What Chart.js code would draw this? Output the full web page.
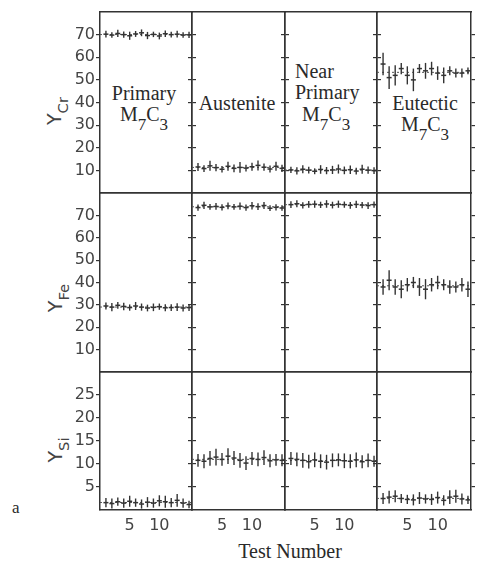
<!DOCTYPE html>
<html>
<head>
<meta charset="utf-8">
<script src="https://cdn.jsdelivr.net/npm/chart.js@4.4.1/dist/chart.umd.min.js"></script>
<style>
body { margin: 0; background: #fff; width: 479px; height: 573px; position: relative; overflow: hidden; }
canvas { position: absolute; }
.lbl { position: absolute; font-family: "Liberation Serif", serif; color: #2a2a2a; font-size: 20px; line-height: 21px; white-space: nowrap; }
.lbl sub { font-size: 85%; vertical-align: -0.5em; line-height: 0; }
.ytitle { position: absolute; font-family: "DejaVu Sans", sans-serif; color: #444; font-size: 19px; white-space: nowrap; transform: translate(-50%, -50%) rotate(-90deg); }
.ytitle sub { font-size: 78%; vertical-align: -0.45em; line-height: 0; }
</style>
</head>
<body>
<div class="ytitle" style="left:54px;top:111px">Y<sub>Cr</sub></div>
<div class="ytitle" style="left:55px;top:298px">Y<sub>Fe</sub></div>
<div class="ytitle" style="left:55px;top:450px">Y<sub>Si</sub></div>

<div class="lbl" style="left:144px;top:83px;transform:translateX(-50%);text-align:center">Primary<br>M<sub>7</sub>C<sub>3</sub></div>
<div class="lbl" style="left:237px;top:93px;transform:translateX(-50%)">Austenite</div>
<div class="lbl" style="left:295px;top:61px">Near<br>Primary</div>
<div class="lbl" style="left:302px;top:104px">M<sub>7</sub>C<sub>3</sub></div>
<div class="lbl" style="left:425px;top:93px;transform:translateX(-50%);text-align:center">Eutectic<br>M<sub>7</sub>C<sub>3</sub></div>

<div class="lbl" style="left:290px;top:541px;transform:translateX(-50%)">Test Number</div>
<div class="lbl" style="left:12px;top:497px;font-size:17px">a</div>

<script>
// test numbers along x, and the four phases (columns)
const testNumbers = [1, 2, 3, 4, 5, 6, 7, 8, 9, 10, 11, 12, 13, 14, 15];
const phases = ['Primary M7C3', 'Austenite', 'Near Primary M7C3', 'Eutectic M7C3'];

// tick labels
const crTicks = [10, 20, 30, 40, 50, 60, 70];
const feTicks = [10, 20, 30, 40, 50, 60, 70];
const siTicks = [5, 10, 15, 20, 25];
const testTicks = [5, 10];

// Y_Cr, one row per phase
const crValues = [
    [70.2, 69.8, 70.5, 70.0, 69.5, 70.3, 70.8, 69.6, 70.1, 69.4, 70.4, 70.0, 70.2, 69.8, 69.9],
    [11.5, 10.8, 12.0, 11.2, 10.5, 11.8, 10.9, 11.3, 11.0, 11.6, 12.2, 11.4, 10.6, 11.8, 10.9],
    [10.2, 9.8, 10.5, 10.1, 9.6, 10.4, 9.9, 10.2, 10.6, 10.0, 10.3, 9.7, 10.5, 10.1, 9.9],
    [57, 51, 52, 55, 52, 50, 55, 54, 55, 53, 52, 54, 53, 53, 54]
];
const crErrors = [
    [1.5, 1.2, 1.6, 1.4, 1.8, 1.3, 1.5, 1.6, 1.2, 1.5, 1.4, 1.3, 1.5, 1.2, 1.4],
    [1.8, 1.5, 2.2, 1.6, 1.4, 2.0, 1.7, 2.4, 1.5, 1.8, 2.2, 1.6, 1.5, 2.0, 1.6],
    [1.4, 1.6, 1.8, 1.5, 1.3, 1.9, 1.6, 1.8, 2.0, 1.7, 1.9, 1.5, 2.0, 1.6, 1.5],
    [5, 5, 4.5, 2.5, 4, 5, 2, 3.5, 3, 3, 3.5, 2, 2, 2, 1.5]
];

// Y_Fe
const feValues = [
    [29.5, 29.0, 29.8, 29.3, 28.8, 29.5, 29.0, 28.6, 28.9, 29.2, 28.7, 28.8, 29.0, 28.6, 28.8],
    [73.5, 74.5, 73.8, 74.0, 73.6, 74.2, 73.8, 74.1, 73.5, 74.3, 73.9, 74.4, 73.2, 73.6, 73.3],
    [74.8, 75.2, 74.5, 74.9, 75.0, 74.7, 75.1, 74.6, 75.0, 74.8, 74.5, 74.9, 74.6, 74.4, 74.8],
    [38, 41, 38, 37, 39, 40, 38, 37, 39, 40, 39, 38, 38, 39, 37]
];
const feErrors = [
    [1.6, 1.8, 1.5, 1.7, 1.4, 1.8, 1.6, 1.5, 1.7, 1.4, 1.6, 1.5, 1.7, 1.6, 1.5],
    [1.4, 1.6, 1.3, 1.5, 1.4, 1.5, 1.3, 1.6, 1.4, 1.7, 1.5, 1.6, 1.3, 1.4, 1.2],
    [1.5, 1.6, 1.4, 1.5, 1.6, 1.4, 1.7, 1.5, 1.6, 1.4, 1.5, 1.6, 1.4, 1.5, 1.4],
    [3.5, 4.5, 3.5, 4, 3, 2.5, 4, 4.5, 3, 3, 2.5, 3, 2.5, 3, 3.5]
];

// Y_Si
const siValues = [
    [1.6, 1.4, 1.8, 1.5, 1.9, 1.6, 1.3, 1.7, 1.5, 2.0, 1.8, 1.6, 2.1, 1.5, 1.2],
    [10.8, 10.6, 11.2, 11.5, 11.0, 11.7, 11.3, 10.8, 10.2, 11.2, 11.0, 11.4, 10.7, 10.9, 10.8],
    [11.2, 11.0, 10.8, 10.5, 10.9, 10.6, 10.4, 10.8, 10.9, 10.7, 10.6, 10.9, 10.5, 10.8, 10.6],
    [2.5, 2.8, 3.0, 2.5, 2.3, 2.2, 2.6, 2.4, 2.3, 2.7, 2.1, 2.8, 3.0, 2.4, 2.2]
];
const siErrors = [
    [1.0, 1.1, 0.9, 1.0, 1.2, 0.9, 1.0, 1.1, 1.0, 1.2, 1.3, 1.0, 1.4, 1.0, 0.8],
    [1.4, 1.5, 1.6, 1.8, 1.4, 1.7, 1.5, 1.6, 1.5, 1.4, 1.5, 1.6, 1.4, 1.3, 1.3],
    [1.4, 1.5, 1.6, 1.5, 1.6, 1.5, 1.6, 1.5, 1.4, 1.6, 1.5, 1.6, 1.4, 1.5, 1.2],
    [1.2, 1.4, 1.3, 1.0, 1.0, 1.2, 1.3, 1.0, 1.2, 1.3, 1.1, 1.5, 1.4, 1.2, 0.9]
];

const rows = [
    { values: crValues, errors: crErrors, ticks: crTicks, max: 80 },
    { values: feValues, errors: feErrors, ticks: feTicks, max: 80 },
    { values: siValues, errors: siErrors, ticks: siTicks, max: 30 }
];

// panel layout (pixels)
const colEdges = [100, 192, 285, 377, 471];
const rowEdges = [12, 193, 372, 510];
const xMax = 15.5;
const ink = '#333';

const errorBars = {
    id: 'errorBars',
    afterDatasetsDraw(chart) {
        const { ctx, scales } = chart;
        const ds = chart.data.datasets[0];
        ctx.save();
        ctx.strokeStyle = ink;
        ctx.lineWidth = 1.4;
        ds.data.forEach(p => {
            const px = scales.x.getPixelForValue(p.x);
            ctx.beginPath();
            ctx.moveTo(px, scales.y.getPixelForValue(p.y - p.err));
            ctx.lineTo(px, scales.y.getPixelForValue(p.y + p.err));
            ctx.stroke();
        });
        ctx.restore();
    }
};

// fixed axis size, no label overhang padding
function fixSize(w, h) {
    return s => {
        if (w !== null) s.width = w;
        if (h !== null) s.height = h;
        s.paddingTop = s.paddingBottom = s.paddingLeft = s.paddingRight = 0;
    };
}

function frameAxis(extra) {
    return Object.assign({
        type: 'linear',
        grid: { display: true, drawOnChartArea: false, drawTicks: false, tickLength: 0, color: ink },
        border: { display: true, color: ink, width: 1.5 },
        ticks: { display: false }
    }, extra);
}

function makePanel(r, c) {
    const row = rows[r];
    const vals = row.values[c];
    const errs = row.errors[c];
    const mean = vals.reduce((a, b) => a + b, 0) / vals.length;
    const leftW = c === 0 ? 45 : 4;
    const bottomH = r === 2 ? 32 : 0;
    const pw = colEdges[c + 1] - colEdges[c];
    const ph = rowEdges[r + 1] - rowEdges[r];

    const canvas = document.createElement('canvas');
    canvas.width = leftW + pw + 4;
    canvas.height = 2 + ph + bottomH + 2;
    canvas.style.left = (colEdges[c] - leftW) + 'px';
    canvas.style.top = (rowEdges[r] - 2) + 'px';
    document.body.appendChild(canvas);

    const yTickGrid = { display: true, drawOnChartArea: false, drawTicks: true, tickLength: 4, color: ink, lineWidth: 1.2 };
    const setTicks = list => s => { s.ticks = list.map(v => ({ value: v })); };

    new Chart(canvas, {
        type: 'scatter',
        data: {
            datasets: [
                {
                    label: phases[c],
                    data: testNumbers.map((t, i) => ({ x: t, y: vals[i], err: errs[i] })),
                    pointStyle: 'line',
                    pointRadius: 2.5,
                    borderWidth: 1.5,
                    borderColor: ink,
                    backgroundColor: ink
                },
                {
                    type: 'line',
                    data: [{ x: 0, y: mean }, { x: xMax, y: mean }],
                    borderColor: '#555',
                    borderWidth: 1,
                    borderDash: [2, 3],
                    pointRadius: 0
                }
            ]
        },
        options: {
            responsive: false,
            animation: false,
            devicePixelRatio: 1,
            events: [],
            layout: { autoPadding: false, padding: { top: 2, bottom: 2, left: 0, right: 0 } },
            plugins: { legend: { display: false }, tooltip: { enabled: false } },
            scales: {
                x: frameAxis({
                    min: 0, max: xMax, position: 'bottom',
                    ticks: {
                        display: r === 2, color: '#444', padding: 6, maxRotation: 0, autoSkip: false,
                        font: { family: 'DejaVu Sans', size: 16 }
                    },
                    afterBuildTicks: setTicks(testTicks),
                    afterFit: fixSize(null, bottomH)
                }),
                xTop: frameAxis({
                    min: 0, max: xMax, position: 'top',
                    afterFit: fixSize(null, 0)
                }),
                y: frameAxis({
                    min: 0, max: row.max, position: 'left',
                    grid: yTickGrid,
                    ticks: {
                        display: c === 0, color: '#444', padding: 1,
                        font: { family: 'DejaVu Sans', size: 16 }
                    },
                    afterBuildTicks: setTicks(row.ticks),
                    afterFit: fixSize(leftW, null)
                }),
                yRight: frameAxis({
                    min: 0, max: row.max, position: 'right',
                    grid: yTickGrid,
                    afterBuildTicks: setTicks(row.ticks),
                    afterFit: fixSize(4, null)
                })
            }
        },
        plugins: [errorBars]
    });
}

for (let r = 0; r < 3; r++) {
    for (let c = 0; c < 4; c++) {
        makePanel(r, c);
    }
}
</script>
</body>
</html>
